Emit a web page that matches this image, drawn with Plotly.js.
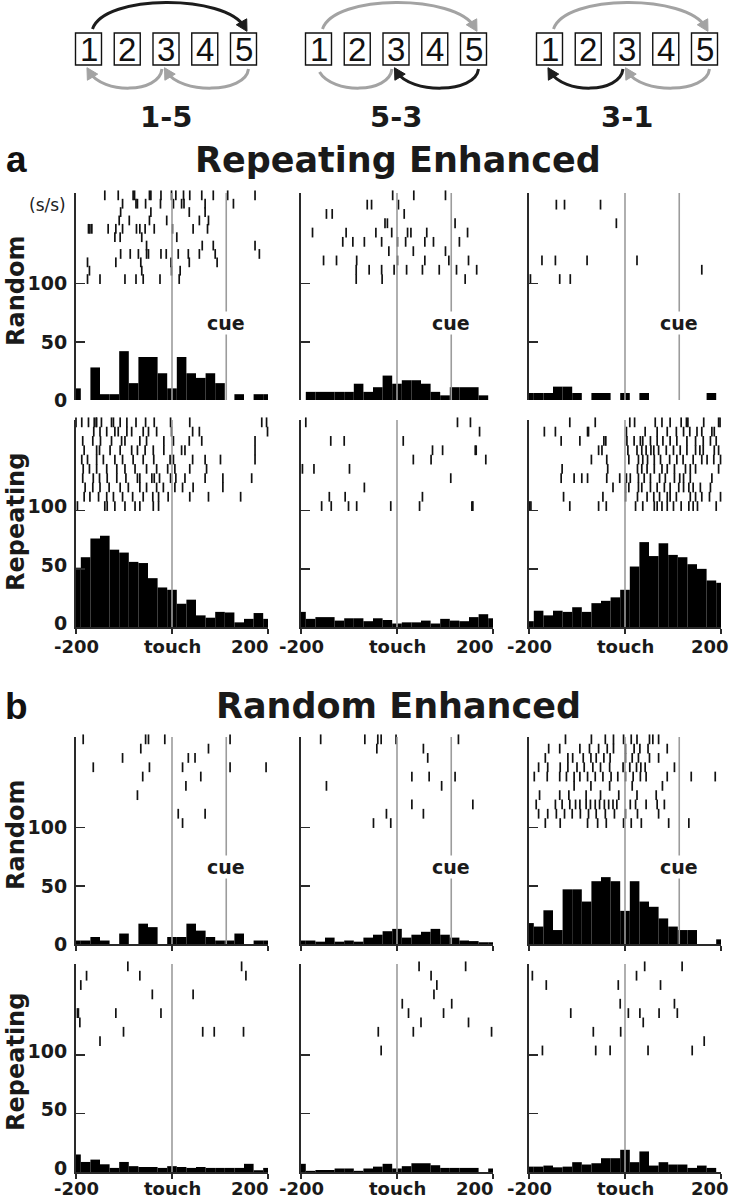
<!DOCTYPE html>
<html><head><meta charset="utf-8">
<script src="https://cdn.plot.ly/plotly-3.0.1.min.js"></script>
<style>html,body{margin:0;padding:0;background:#fff}#chart{width:732px;height:1200px}</style>
</head><body><div id="chart"></div>
<script>
// ---------------- DATA ----------------
const binCenters = [-200,-180,-160,-140,-120,-100,-80,-60,-40,-20,0,20,40,60,80,100,120,140,160,180,200];
const touchTime = 0;
const cueTime = 113;
const yTickVals = [0,50,100];
const xTickVals = [-200,0,200];
const xTickText = ['-200','touch','200'];
const columnLabels = ['1-5','5-3','3-1'];
const rowLabels = ['Random','Repeating'];
const sectionTitles = ['Repeating Enhanced','Random Enhanced'];
const sectionLetters = ['a','b'];
const boxDigits = ['1','2','3','4','5'];

// histograms (s/s), bins centred on binCenters
const histA_Random_15 = [10,0,28,5,5,42,14.5,37,37,23,10,37,23,19,23,14.5,0,5,0,5,5];
const histA_Random_53 = [0,7,7,7,7,7,14,7,11,21,14,17,17,14,7,4,11,11,11,4,0];
const histA_Random_31 = [6,6,6,11.5,11.5,6,0,6,6,0,6,0,6,0,0,0,0,0,0,6,0];
const histA_Repeat_15 = [51,60,76,78.5,66.5,64,56,55,42,34,32,20,23.5,10,8,13,12.5,4,7,12,7];
const histA_Repeat_53 = [13,7,8.5,8.5,5.5,7.5,7.5,5,7.5,6,3,4,4,5.5,3,7,5.5,5,8.5,11,7.5];
const histA_Repeat_31 = [5,14,10,14,13,17,13,20.5,22.5,25.5,32,52,73,61,72,62,60,54,50,40,38];
const histB_Random_15 = [3,3,6,3,0,9,0,17.5,14.5,0,6,6,17.5,11.5,6,3,3,9,0,3,3];
const histB_Random_53 = [3,3,2,5.5,2,3,2,5.5,8,11,13,5.5,8,10.5,13,8,5.5,3,2.5,1.5,1.5];
const histB_Random_31 = [18,15,29,12,47,47,36.5,54,57.5,54,28.5,54,36.5,32,22,15,12,12,0,0,4];
const histB_Repeat_15 = [15,8.6,10.6,6.6,3.5,8.6,5,4.3,4.3,3.5,5,4.3,3.5,4.3,3.5,3.5,3.5,3.5,7,1.5,3.5];
const histB_Repeat_53 = [7,1,1.7,1.7,3,3,1,3,4.6,7,3,5,7.5,7.5,5.8,3.5,3.5,3.5,3.5,0,3];
const histB_Repeat_31 = [4.6,4.6,5.5,4,4.6,8.4,6.4,7.5,11.8,11.8,19,8.4,17.6,5.5,8.4,6.4,6.4,3.5,5.5,3.5,0];

// rasters: one array of spike times (ms) per trial, top trial first
const rasterA_Random_15 = [
 [-140,-112,-81,-78,-47,-44,-23,-1,8,24,37,62,86,116,173],
 [-103,-75,-72,-55,-24,3,20,25,69,128],
 [-107,-44,36,69],
 [-110,-89,-47,-11,57,76],
 [-174,-171,-167,-133,-117,-103,-74,-67,-56,-37,1,44,74],
 [-119,-108,-63,10],
 [-53,63,86,173],
 [-107,-87,-70,-53,-49,-23,-12,13,34,57,90,182],
 [-176,-117,-65,-2,36,94],
 [-172,-63,-1,17],
 [-176,-150,-98,-75,-60,-25,15]
];
const rasterA_Random_53 = [
 [-9,35,101],
 [-62,-53,3],
 [-147,-135,15],
 [-25,-20,121],
 [-176,-106,-44,-11,22,29,62,147],
 [-113,-92,-68,-32,1,18,58,76,130],
 [-17,34,101],
 [-153,-126,-84,1,58,108,149],
 [-85,-58,-32,-6,20,53,88,124,166],
 [-85,-31,142]
];
const rasterA_Random_31 = [
 [], [-143,-126,-51], [], [-18], [], [], [], [-173,-145,-79,25], [160], [-197,-136,-114]
];
const rasterA_Repeat_15 = [
 [-200,-188,-174,-162,-158,-157,-147,-126,-122,-108,-94,-75,-55,-37,-3,37,187,197],
 [-163,-150,-136,-119,-112,-94,-84,-60,-49,-32,-1,43,57,199],
 [-186,-165,-149,-126,-105,-98,-67,-53,-17,3,36,62,173],
 [-183,-157,-151,-129,-108,-84,-72,-56,-39,-17,20,27,173],
 [-188,-176,-157,-143,-119,-103,-81,-60,-38,-4,3,43,69,101,173],
 [-185,-172,-157,-136,-115,-98,-77,-53,-32,-9,6,37,72],
 [-186,-164,-151,-135,-115,-96,-72,-67,-42,-37,-26,-3,8,27,69,106,166],
 [-181,-165,-150,-131,-108,-91,-67,-53,-32,-18,6,22,44,106],
 [-183,-171,-153,-136,-122,-103,-82,-60,-40,-28,-8,37,76,143],
 [-197,-140,-135,-119,-98,-77,-67,-39,-28]
];
const rasterA_Repeat_53 = [
 [-190,126,153],
 [172],
 [-138,-110,13],
 [74,95,163,165],
 [34,71,185],
 [-197,-173,-99],
 [112],
 [-68],
 [-141,-108,53],
 [-157,-137,-101,-84,-13,47,156,158]
];
const rasterA_Repeat_31 = [
 [-115,-62,10,20,63,77,94,117,128,131,164,195,198],
 [-168,-145,-78,-76,3,42,67,88,107,122,135,150,160,181,186],
 [-133,-94,-44,-40,4,19,32,37,53,67,79,94,108,129,147,163,178,190],
 [-55,-48,6,25,35,44,54,60,70,86,101,115,129,147,156,163,186,195],
 [-70,-38,8,28,37,47,61,74,93,108,121,142,160,171,185,199],
 [-131,-36,26,35,46,61,77,88,103,126,136,147,195],
 [-133,-106,-90,-78,-38,-11,3,11,28,40,53,72,84,103,114,122,136,181],
 [-25,1,8,28,35,53,67,82,94,112,122,133,142,157,178],
 [-128,-46,1,26,46,60,72,88,94,107,136,147,160,176,199],
 [-199,-196,-115,-55,-39,22,37,61,67,77,88,101,117,133,142,151,190]
];
const rasterB_Random_15 = [
 [-185,-55,-49,-15,121], [-65,76], [-103,34,48], [-164,-47,22,121,196], [-61,60],
 [29], [-72], [], [13,69], [22]
];
const rasterB_Random_53 = [
 [-159,-67,-40,-33,-2,128], [-42,55], [64], [], [31,67,121], [-147,93], [], [31,158], [-22,55], [-49,-13]
];
const rasterB_Random_31 = [
 [-124,-70,-41,-24,-3,13,25,51,58,70],
 [-159,-136,-94,-74,-55,-37,-24,1,19,31,48,88],
 [-166,-119,-109,-87,-71,-60,-44,-31,1,15,28,51,70],
 [-180,-161,-135,-119,-100,-85,-67,-51,-32,-4,10,24,33,42,103],
 [-189,-162,-136,-122,-106,-94,-78,-62,-46,-29,-15,1,17,32,44,88,138,188],
 [-106,-71,-32,15,78],
 [-178,-136,-117,-81,-51,-13,25,65],
 [-185,-145,-131,-115,-103,-94,-81,-72,-62,-53,-43,-34,-25,-17,11,22,44,67,82],
 [-180,-161,-143,-126,-110,-93,-76,-60,-41,-22,1,26,70],
 [-166,-135,-78,-57,-39,-3,13,34,91,133]
];
const rasterB_Repeat_15 = [
 [-92,145], [-178,-67,154], [-190], [-41,44], [], [-197,-195,-117,-23], [-192], [-101,64,88,149], [-150], []
];
const rasterB_Repeat_53 = [
 [46,143], [71], [83], [77], [11,114], [24,97], [50,149], [-39,34,197], [], [-33]
];
const rasterB_Repeat_31 = [
 [41,119], [-193,24], [-164,-14,74], [], [-10,103], [-113,7,31,71,109], [38], [-66,-9], [165], [-172,-61,-31,48,140]
];

// ---------------- LAYOUT ----------------
const W = 732, H = 1200;
const px = x => x / W;
const py = y => 1 - y / H;
const colX = [[76,268],[301,493],[529,721]];
const rowY = [[193,400],[420,627],[737,944],[964,1172]];
const xLabelY = [null, 646, null, 1188];
const yMax = 178, rasterTop = 176, rasterBottom = 104;

const panels = [
 {h:histA_Random_15, r:rasterA_Random_15}, {h:histA_Random_53, r:rasterA_Random_53}, {h:histA_Random_31, r:rasterA_Random_31},
 {h:histA_Repeat_15, r:rasterA_Repeat_15}, {h:histA_Repeat_53, r:rasterA_Repeat_53}, {h:histA_Repeat_31, r:rasterA_Repeat_31},
 {h:histB_Random_15, r:rasterB_Random_15}, {h:histB_Random_53, r:rasterB_Random_53}, {h:histB_Random_31, r:rasterB_Random_31},
 {h:histB_Repeat_15, r:rasterB_Repeat_15}, {h:histB_Repeat_53, r:rasterB_Repeat_53}, {h:histB_Repeat_31, r:rasterB_Repeat_31}
];

const boldFont = (size) => ({family:'DejaVu Sans', size: size, color:'#1a1a1a', weight:'bold'});
const axisColor = '#2a2a2a';
const lineGray = '#9c9c9c';

const traces = [];
const layout = {
  width: W, height: H, margin:{l:0,r:0,t:0,b:0},
  paper_bgcolor:'#fff', plot_bgcolor:'rgba(0,0,0,0)',
  showlegend:false, shapes:[], annotations:[]
};
function note(x, y, text, font, extra) {
  layout.annotations.push(Object.assign({xref:'paper', yref:'paper', x: px(x), y: py(y), text: text,
    showarrow:false, xanchor:'center', yanchor:'middle', font: font}, extra || {}));
}

panels.forEach((p, idx) => {
  const row = Math.floor(idx/3), col = idx % 3, k = idx + 1;
  const xa = 'x' + (k===1?'':k), ya = 'y' + (k===1?'':k);
  const isRandomRow = (row % 2 === 0);
  const showXLine = row !== 0;
  layout['xaxis' + (k===1?'':k)] = {
    domain:[px(colX[col][0]), px(colX[col][1])], range:[-200,200], anchor: ya,
    showline: showXLine, linecolor: axisColor, linewidth: 2,
    ticks: showXLine ? 'outside' : '', ticklen: 5, tickwidth: 1.5, tickcolor: axisColor,
    tickmode:'array', tickvals: xTickVals, showticklabels:false,
    showgrid:false, zeroline:false, fixedrange:true
  };
  layout['yaxis' + (k===1?'':k)] = {
    domain:[py(rowY[row][1]), py(rowY[row][0])], range:[0,yMax], anchor: xa,
    showline:true, linecolor: axisColor, linewidth: 2,
    ticks:'inside', ticklen: 9, tickwidth: 1.5, tickcolor: axisColor,
    tickmode:'array', tickvals: yTickVals,
    showticklabels: col === 0, tickfont: boldFont(19), ticklabelstandoff: 3,
    ticklabelshift: isRandomRow ? 0 : -4,
    showgrid:false, zeroline:false, fixedrange:true
  };
  traces.push({type:'bar', x: binCenters, y: p.h, width: 20, xaxis: xa, yaxis: ya,
    marker:{color:'#000', line:{width:0}}, hoverinfo:'skip'});
  const n = p.r.length;
  const rx = [], ry = [];
  p.r.forEach((trial, i) => {
    const yv = rasterTop - i * (rasterTop - rasterBottom) / (n - 1);
    trial.forEach(t => { rx.push(t); ry.push(yv); });
  });
  traces.push({type:'scatter', mode:'markers', x: rx, y: ry, xaxis: xa, yaxis: ya, cliponaxis:false,
    marker:{symbol:'line-ns-open', size:7, color:'#111', line:{width:1.7, color:'#111'}}, hoverinfo:'skip'});
  layout.shapes.push({type:'line', xref: xa, yref: ya + ' domain', x0: touchTime, x1: touchTime, y0: 0, y1: 1,
    line:{color: lineGray, width: 1.6}, layer:'above'});
  if (isRandomRow) {
    layout.shapes.push({type:'line', xref: xa, yref: ya + ' domain', x0: cueTime, x1: cueTime, y0: 0, y1: 1,
      line:{color: lineGray, width: 1.6}, layer:'above'});
    layout.annotations.push({xref: xa, yref: ya, x: cueTime, y: 66, text:'cue', showarrow:false,
      xanchor:'center', yanchor:'middle', font: boldFont(19), bgcolor:'#fff', borderpad:0});
  }
  // x tick labels (bottom row of each section)
  if (!isRandomRow) {
    const yl = xLabelY[row];
    xTickVals.forEach((v, j) => {
      const opts = {xref: xa, yref:'paper', x: v, y: py(yl), text: xTickText[j], showarrow:false,
        xanchor: j === 2 ? 'right' : 'center', yanchor:'middle', font: boldFont(18), borderpad:0};
      if (j === 2) opts.xshift = col === 2 ? 9 : 2;
      layout.annotations.push(opts);
    });
  }
  if (col === 0) {
    const yc = [291, 522, 835, 1062][row];
    note(16, yc, rowLabels[row % 2], boldFont(24), {textangle: -90});
  }
});

// unit label
note(47, 205, '(s/s)', {family:'DejaVu Sans', size:17, color:'#222'});

// section titles and letters
[160, 706].forEach((yc, i) => {
  note(398, yc, sectionTitles[i], boldFont(35));
  note(16, yc, sectionLetters[i], {family:'Liberation Sans', size:37, color:'#111', weight:'bold'});
});

// ---------------- TOP DIAGRAMS ----------------
const colCenters = [166, 396, 627];
const pitch = 38.75, boxW = 26, boxTop = 33, boxBot = 65;
const dark = '#1c1c1c', gray = '#a3a3a3';
const P = (x, y) => px(x).toFixed(5) + ',' + py(y).toFixed(5);
function arc(S, C1, C2, E, color, head) {
  layout.shapes.push({type:'path', xref:'paper', yref:'paper',
    path: 'M' + P(S[0],S[1]) + ' C' + P(C1[0],C1[1]) + ' ' + P(C2[0],C2[1]) + ' ' + P(E[0],E[1]),
    line:{color: color, width: 3}, fillcolor:'rgba(0,0,0,0)'});
  if (head) {
    let dx = E[0]-C2[0], dy = E[1]-C2[1]; const L = Math.hypot(dx, dy); dx/=L; dy/=L;
    const T = [E[0]+dx*5, E[1]+dy*5], B = [E[0]-dx*6, E[1]-dy*6], nx = -dy, ny = dx, hw = 6;
    layout.shapes.push({type:'path', xref:'paper', yref:'paper',
      path: 'M' + P(T[0],T[1]) + ' L' + P(B[0]+nx*hw, B[1]+ny*hw) + ' L' + P(B[0]-nx*hw, B[1]-ny*hw) + ' Z',
      fillcolor: color, line:{color: color, width: 1}});
  }
}
const arrowStyles = [
  {up: dark, right: gray, left: gray, leftHead: true},
  {up: gray, right: dark, left: gray, leftHead: false},
  {up: gray, right: gray, left: dark, leftHead: true}
];
colCenters.forEach((cx, c) => {
  const b = i => cx + (i - 2) * pitch;
  boxDigits.forEach((d, i) => {
    layout.shapes.push({type:'rect', xref:'paper', yref:'paper', x0: px(b(i)-boxW/2), x1: px(b(i)+boxW/2),
      y0: py(boxBot), y1: py(boxTop), line:{color:'#111', width:1.4}, fillcolor:'#fff'});
    note(b(i), (boxTop+boxBot)/2 + 1, d, {family:'Liberation Sans Narrow, Liberation Sans', size:33, color:'#111'});
  });
  const st = arrowStyles[c];
  arc([b(0)+4, 29], [b(0)+16, -6], [b(4)-18, -6], [b(4)+1, 27], st.up, true);
  arc([b(4)+5, 69], [b(4)+2, 94], [b(2)+14, 94], [b(2)+1, 72], st.right, true);
  arc([b(2)-4, 69], [b(2)-7, 94], [b(0)+14, 94], [b(0)+1, 72], st.left, st.leftHead);
  note(cx, 117, columnLabels[c], boldFont(29));
});

Plotly.newPlot('chart', traces, layout, {staticPlot:true, displayModeBar:false});
</script>
</body></html>
